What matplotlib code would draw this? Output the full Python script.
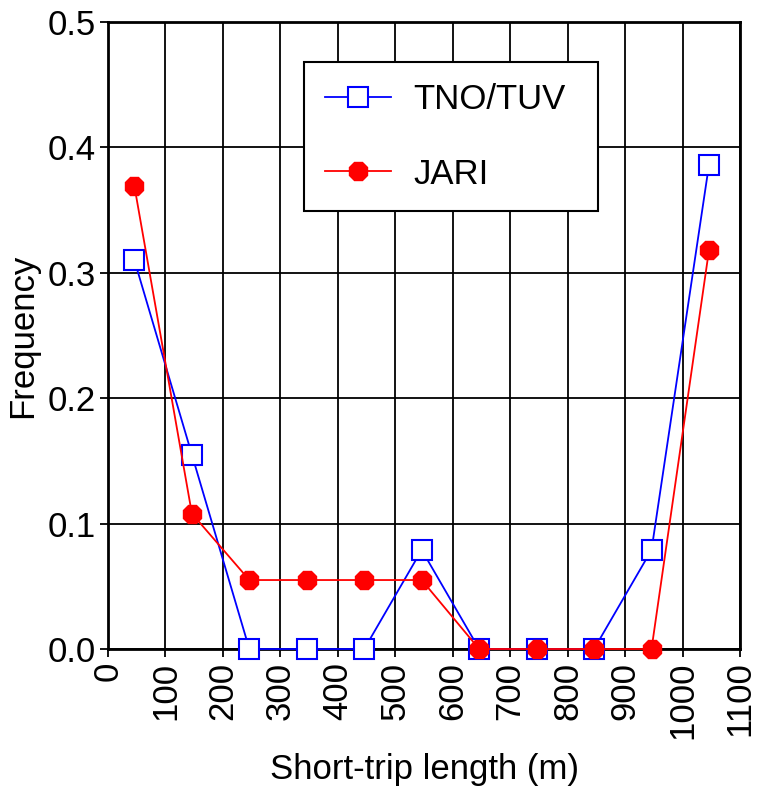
import numpy as np
import matplotlib.pyplot as plt

plt.rcParams['font.family'] = ['Liberation Sans', 'DejaVu Sans']

# bin centres (m) and frequencies
trip_length = [46, 146, 246, 346, 446, 546, 646, 746, 846, 946, 1046]
tno_tuv = [0.31, 0.155, 0.0, 0.0, 0.0, 0.079, 0.0, 0.0, 0.0, 0.079, 0.386]
jari = [0.369, 0.108, 0.055, 0.055, 0.055, 0.055, 0.0, 0.0, 0.0, 0.0, 0.318]

x_ticks = np.arange(0, 1101, 100)
y_ticks = [0.0, 0.1, 0.2, 0.3, 0.4, 0.5]


def make_plot():
    fig = plt.figure(figsize=(7.62, 7.94), dpi=100)
    ax = fig.add_axes([108 / 762, 145 / 794, 632 / 762, 627 / 794])

    # grid first so the lines sit under the data
    ax.set_axisbelow(True)
    ax.grid(color='black', linewidth=1.3)

    ax.plot(trip_length, tno_tuv, color='blue', linewidth=1.3, marker='s',
            markersize=15, markerfacecolor='white', markeredgecolor='blue',
            markeredgewidth=1.5, label='TNO/TUV', clip_on=False, zorder=3)
    ax.plot(trip_length, jari, color='red', linewidth=1.3, marker='8',
            markersize=14, markerfacecolor='red', markeredgecolor='red',
            label='JARI', clip_on=False, zorder=4)

    ax.set_xlim(0, 1100)
    ax.set_ylim(0, 0.5)
    ax.set_xticks(x_ticks)
    ax.set_xticklabels([str(t) for t in x_ticks], rotation=90, fontsize=25)
    ax.set_yticks(y_ticks)
    ax.set_yticklabels([f"{t:.1f}" for t in y_ticks], fontsize=25)
    ax.tick_params(axis='both', direction='out', length=6, width=1.3, pad=3)

    for s in ax.spines.values():
        s.set_linewidth(2)
        s.set_color('black')

    ax.set_xlabel("Short-trip length (m)", fontsize=25, labelpad=10)
    ax.set_ylabel("Frequency", fontsize=25, labelpad=6)

    # legend box placed where the reference has it
    leg = ax.legend(loc='upper left', bbox_to_anchor=(0.31, 0.707, 0.465, 0.229),
                    mode='expand', fontsize=25, fancybox=False, framealpha=1,
                    edgecolor='black', handlelength=1.9, handletextpad=0.65,
                    borderpad=0.6, labelspacing=1.2, borderaxespad=0)
    leg.get_frame().set_linewidth(1.5)

    fig.savefig("out.png", dpi=100)


if __name__ == "__main__":
    make_plot()
